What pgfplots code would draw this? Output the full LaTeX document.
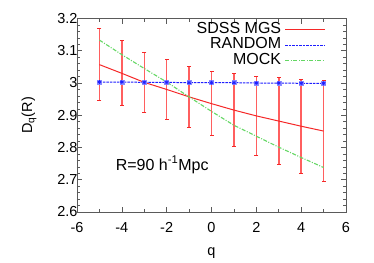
\documentclass[border=0pt]{standalone}
\usepackage{pgfplots}
\pgfplotsset{compat=1.18}
\usepackage{fontspec}
\setmainfont{Liberation Sans}
\newcommand\Fa{\fontsize{14.5}{17}\selectfont}
\newcommand\Fb{\fontsize{16}{19}\selectfont}
\definecolor{mockgreen}{RGB}{100,215,100}
\definecolor{sdssred}{RGB}{245,40,40}
\definecolor{errred}{RGB}{255,95,95}
\definecolor{randblue}{RGB}{30,30,255}
\definecolor{errblue}{RGB}{140,140,255}
\definecolor{axgray}{RGB}{90,90,90}
\begin{document}
\begin{tikzpicture}
\begin{axis}[name=ax,
  scale only axis, width=269pt, height=193.5pt,
  xmin=-6, xmax=6, ymin=2.6, ymax=3.2,
  xtick={-6,-4,...,6}, ytick={2.6,2.7,...,3.2},
  minor x tick num=1, minor y tick num=4,
  tick align=inside, major tick length=5pt, minor tick length=3pt,
  every tick/.style={axgray, line width=0.6pt},
  axis line style={axgray, line width=0.8pt},
  /pgf/number format/assume math mode=true,
  yticklabel style={/pgf/number format/fixed, /pgf/number format/precision=1, font=\Fa, xshift=4pt},
  xticklabel style={font=\Fa, yshift=-7pt},
  xlabel={q}, ylabel={D\textsubscript{q}(R)},
  xlabel style={font=\Fa, yshift=-8pt},
  ylabel style={font=\Fa, yshift=14pt},
  legend style={draw=none, fill=none, at={(0.93,0.99)}, anchor=north east,
    nodes={font=\Fb, text height=11pt, text depth=3.5pt, inner sep=0.6pt},
    row sep=0pt, inner sep=1pt, column sep=3pt},
  legend cell align=right, legend plot pos=right,
  legend image code/.code={\draw[#1] (0pt,0pt)--(40pt,0pt);},
  unbounded coords=jump,
]
\addlegendimage{color=sdssred, line width=1.1pt}
\addlegendentry{SDSS MGS}
\addlegendimage{color=randblue, line width=1.1pt, dash pattern=on 2.5pt off 1pt}
\addlegendentry{RANDOM}
\addlegendimage{color=mockgreen, line width=1.2pt, dash pattern=on 4pt off 1.5pt on 1pt off 1.5pt}
\addlegendentry{MOCK}
% SDSS error bars (vertical segments)
\addplot[forget plot, color=errred, line width=1.5pt, mark=none] coordinates {
 (-5,2.946) (-5,3.168) (-5,nan)
 (-4,2.929) (-4,3.131) (-4,nan)
 (-3,2.908) (-3,3.096) (-3,nan)
 (-2,2.888) (-2,3.072) (-2,nan)
 (-1,2.863) (-1,3.051) (-1,nan)
 (0,2.836) (0,3.036) (0,nan)
 (1,2.804) (1,3.028) (1,nan)
 (2,2.776) (2,3.020) (2,nan)
 (3,2.748) (3,3.016) (3,nan)
 (4,2.720) (4,3.012) (4,nan)
 (5,2.694) (5,3.008)
};
% SDSS error caps
\addplot[forget plot, only marks, color=sdssred, mark=-, mark size=2pt, mark options={line width=1pt}] coordinates {
 (-5,2.946) (-5,3.168) (-4,2.929) (-4,3.131) (-3,2.908) (-3,3.096)
 (-2,2.888) (-2,3.072) (-1,2.863) (-1,3.051) (0,2.836) (0,3.036)
 (1,2.804) (1,3.028) (2,2.776) (2,3.020) (3,2.748) (3,3.016)
 (4,2.720) (4,3.012) (5,2.694) (5,3.008)
};
% SDSS line
\addplot[forget plot, color=sdssred, line width=1pt, mark=none] coordinates {
 (-5,3.057) (-4,3.030) (-3,3.002) (-2,2.980) (-1,2.957) (0,2.936)
 (1,2.916) (2,2.898) (3,2.882) (4,2.866) (5,2.851)
};
% RANDOM error bars
\addplot[forget plot, only marks, color=errblue, mark=square*, mark size=2pt, mark options={draw=errblue, fill=errblue}] coordinates {
 (-5,3.003) (-4,3.003) (-3,3.002) (-2,3.002) (-1,3.001) (0,3.001)
 (1,3.001) (2,3.000) (3,3.000) (4,2.999) (5,2.999)
};
% RANDOM line
\addplot[forget plot, color=randblue, line width=1pt, dash pattern=on 2.5pt off 1pt, mark=asterisk, mark size=2pt,
  mark options={solid, line width=0.8pt}] coordinates {
 (-5,3.003) (-4,3.003) (-3,3.002) (-2,3.002) (-1,3.001) (0,3.001)
 (1,3.001) (2,3.000) (3,3.000) (4,2.999) (5,2.999)
};
% MOCK
\addplot[forget plot, color=mockgreen, line width=1.1pt, mark=none, dash pattern=on 4pt off 1.5pt on 1pt off 1.5pt]
 coordinates {
 (-5,3.133) (-4,3.088) (-3,3.045) (-2,3.003) (-1,2.957) (0,2.912)
 (1,2.869) (2,2.835) (3,2.801) (4,2.769) (5,2.738)
};
\node[font=\Fb] at (axis cs:-2.2,2.746) {R=90 h\textsuperscript{-1}Mpc};
\end{axis}
\path[use as bounding box] ([shift={(-77pt,-50pt)}]ax.south west) rectangle ++(374pt,262pt);
\end{tikzpicture}
\end{document}
